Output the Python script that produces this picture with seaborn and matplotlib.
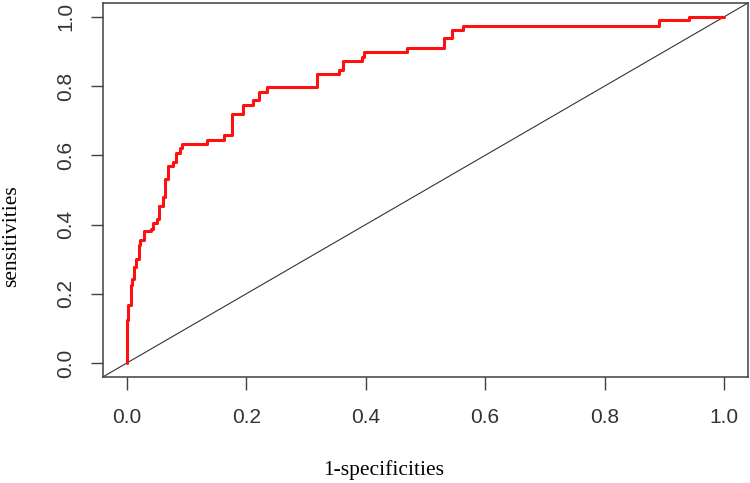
import pandas as pd
import seaborn as sns
import matplotlib.pyplot as plt

# ROC curve (step points: x where the curve jumps, new level)
fpr = [0.000, 0.000, 0.001, 0.003, 0.007, 0.009, 0.012, 0.016, 0.020, 0.023,
       0.029, 0.040, 0.044, 0.050, 0.054, 0.061, 0.065, 0.070, 0.077, 0.083,
       0.090, 0.093, 0.135, 0.163, 0.176, 0.195, 0.211, 0.222, 0.235, 0.319,
       0.356, 0.362, 0.394, 0.398, 0.469, 0.532, 0.545, 0.563, 0.891, 0.942,
       1.000]
tpr = [0.000, 0.076, 0.125, 0.168, 0.225, 0.242, 0.277, 0.302, 0.340, 0.355,
       0.381, 0.388, 0.404, 0.417, 0.453, 0.481, 0.532, 0.568, 0.582, 0.607,
       0.620, 0.633, 0.644, 0.660, 0.719, 0.746, 0.759, 0.784, 0.798, 0.836,
       0.846, 0.873, 0.884, 0.898, 0.910, 0.938, 0.961, 0.975, 0.990, 1.000,
       1.000]
ticks = [0.0, 0.2, 0.4, 0.6, 0.8, 1.0]
tick_labels = ['0.0', '0.2', '0.4', '0.6', '0.8', '1.0']

df = pd.DataFrame({'fpr': fpr, 'tpr': tpr})

sns.set_style('white')
axis_col = '#404040'

fig = plt.figure(figsize=(7.5, 4.83), dpi=100)
ax = fig.add_axes([0.137, 0.2195, 0.8603, 0.7743])

# chance line across the whole plotting region
ax.axline((0, 0), (1, 1), color='#333333', lw=0.8, zorder=1)

sns.lineplot(data=df, x='fpr', y='tpr', ax=ax, color='#ff1010', lw=2.2,
             drawstyle='steps-post', estimator=None, sort=False, zorder=2)

ax.set_xlim(-0.04, 1.04)
ax.set_ylim(-0.04, 1.04)

ax.set_xticks(ticks)
ax.set_xticklabels(tick_labels, fontsize=15, color='#333333', family='Liberation Sans')
ax.set_yticks(ticks)
ax.set_yticklabels(tick_labels, fontsize=15, color='#333333', family='Liberation Sans',
                   rotation=90, va='center')
ax.tick_params(axis='both', direction='out', length=9, width=1, colors=axis_col,
               bottom=True, left=True)
ax.tick_params(axis='x', pad=13, labelcolor='#333333')
ax.tick_params(axis='y', pad=11, labelcolor='#333333')

for sp in ax.spines.values():
    sp.set_color(axis_col)
    sp.set_linewidth(1.1)

ax.set_xlabel('1-specificities', fontsize=15.5, family='Liberation Serif', color='black')
ax.xaxis.label.set_va('center')
ax.xaxis.set_label_coords(0.435, -0.249)
ax.set_ylabel('sensitivities', fontsize=15.5, family='Liberation Serif', color='black')
ax.yaxis.label.set_va('center')
ax.yaxis.set_label_coords(-0.141, 0.377)

fig.savefig('out.png', dpi=100)
